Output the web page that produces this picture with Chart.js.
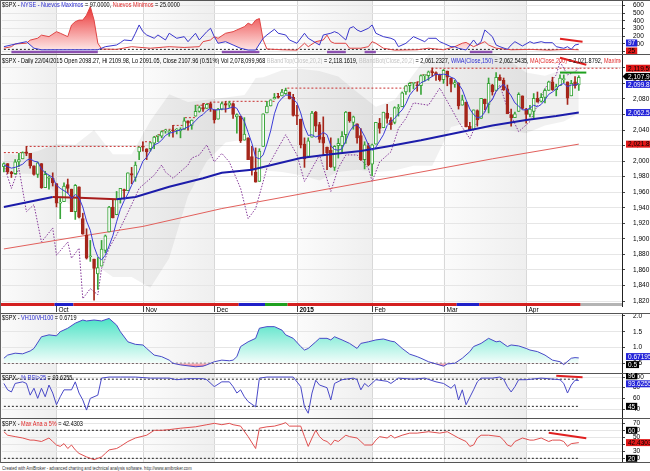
<!DOCTYPE html>
<html>
<head>
<meta charset="utf-8">
<title>$SPX Daily</title>
<script src="https://cdn.jsdelivr.net/npm/chart.js@4.4.1/dist/chart.umd.min.js"></script>
<style>
  html, body { margin: 0; padding: 0; background: #fff; }
  #wrap { position: relative; width: 650px; height: 471px; overflow: hidden; background: #fff; }
  #wrap canvas { position: absolute; left: 0; }
  .ttl { position: absolute; left: 2px; white-space: nowrap; font-family: Arial, "Liberation Sans", sans-serif; font-size: 6.5px; line-height: 7px; color: #000; transform: scaleX(0.85); transform-origin: 0 0; z-index: 5; }
  .clip { position: absolute; left: 0; width: 621px; height: 8px; overflow: hidden; z-index: 5; }
  #foot { font-size: 5.2px; color: #333; transform: scaleX(0.8); }
  #lborder { position: absolute; left: 0; top: 0; width: 1px; height: 463px; background: #666; z-index: 6; }
</style>
</head>
<body>
<div id="wrap">
  <canvas id="cNyse" width="650" height="54" style="top:0"></canvas>
  <canvas id="cPrice" width="650" height="259" style="top:54px"></canvas>
  <canvas id="cVh" width="650" height="60" style="top:313px"></canvas>
  <canvas id="cRsi" width="650" height="45" style="top:373px"></canvas>
  <canvas id="cAna" width="650" height="45" style="top:418px"></canvas>

  <div class="ttl" style="top:0.5px">$SPX - <span style="color:#2a2ad0">NYSE - Nuevos Maximos</span> = 97.0000, <span style="color:#e02828">Nuevos Minimos</span> = 25.0000</div>
  <div class="clip" style="top:56px"><div class="ttl" style="top:0.5px">$SPX - Daily 22/04/2015 Open 2098.27, Hi 2109.98, Lo 2091.05, Close 2107.96 (0.51%) Vol 2,078,099,968 <span style="color:#c4c4c4">BBandTop(Close,20,2)</span> = 2,118.1619, <span style="color:#c4c4c4">BBandBot(Close,20,2)</span> = 2,061.2327, <span style="color:#2a2ad0">WMA(Close,150)</span> = 2,062.5435, <span style="color:#e02828">MA(Close,200)</span> = 2,021.8792, <span style="color:#e02828">Maximo</span> = 2,119.5900</div></div>
  <div class="ttl" style="top:313.5px">$SPX - <span style="color:#2a2ad0">VH10/VH100</span> = 0.6719</div>
  <div class="ttl" style="top:373.5px">$SPX - <span style="color:#2a2ad0">% RSI&gt;25</span> = 93.6255</div>
  <div class="ttl" style="top:419.5px">$SPX - <span style="color:#e02828">Max Ana a 5%</span> = 42.4303</div>
  <div class="ttl" id="foot" style="top:464.5px">Created with AmiBroker - advanced charting and technical analysis software. http://www.amibroker.com</div>
  <div id="lborder"></div>
</div>

<script>
// $SPX daily bars, 11/09/2014 .. 22/04/2015 (bar index 0..153)
const opens = [1993,1997,1986,1984,1999,2003,2012,2010,1994,1983,1997,1966,1978,1978,
  1971,1946,1948,1970,1964,1935,1967,1926,1905,1877,1874,1855,1865,1885,1909,1941,1931,1951,1963,1962,1984,1979,2012,
  2019,2016,2016,2023,2032,2032,2039,2037,2040,2040,2039,2041,2052,2046,2058,2064,2069,2068,2074,
  2066,2054,2067,2074,2072,2074,2057,2058,2027,2030,2006,1986,1974,2019,2062,2071,2080,2083,2084,2087,2089,2082,
  2059,2054,2022,2006,2031,2063,2047,2031,2018,2014,1992,2020,2020,2034,2063,2050,2048,2033,2002,2020,
  1996,2022,2049,2043,2062,2053,2050,2068,2070,2089,2097,2100,2098,2097,2110,2110,2115,2114,2111,
  2105,2116,2107,2099,2100,2072,2076,2045,2041,2065,2055,2080,2073,2098,2091,2108,2104,2093,2060,2056,2064,2084,
  2067,2060,2064,2081,2077,2082,2091,2102,2092,2097,2105,2102,2084,2102,2098];
const highs = [1998,1997,1987,2002,2010,2012,2019,2010,1994,1999,1997,1987,1981,1985,
  1971,1952,1972,1977,1964,1970,1967,1933,1913,1898,1874,1876,1898,1905,1942,1950,1961,1965,1964,1985,1992,1999,2018,
  2025,2016,2024,2032,2034,2039,2041,2040,2046,2042,2043,2056,2052,2053,2072,2071,2074,2074,2076,
  2066,2068,2076,2077,2077,2075,2061,2058,2056,2030,2019,2017,2016,2061,2077,2079,2087,2087,2092,2094,2089,2086,
  2072,2054,2030,2030,2064,2064,2050,2057,2018,2030,2020,2029,2038,2064,2063,2058,2048,2042,2025,2023,
  2022,2050,2055,2063,2073,2056,2070,2073,2089,2097,2101,2101,2102,2111,2111,2116,2120,2115,2112,
  2118,2116,2107,2104,2101,2085,2076,2050,2066,2066,2081,2080,2107,2099,2114,2111,2107,2098,2067,2063,2088,2084,
  2068,2072,2087,2089,2087,2093,2103,2108,2099,2111,2111,2102,2104,2109,2110];
const lows = [1986,1984,1979,1983,1993,2003,2007,1991,1982,1979,1965,1966,1964,1968,
  1941,1926,1948,1959,1935,1925,1927,1906,1874,1871,1821,1835,1865,1882,1909,1927,1931,1946,1951,1962,1971,1974,2002,
  2013,2002,2013,2016,2025,2030,2036,2032,2031,2035,2030,2041,2040,2041,2058,2063,2064,2068,2064,
  2049,2054,2066,2063,2069,2055,2036,2024,2027,2002,1982,1973,1974,2019,2062,2071,2080,2081,2084,2086,2080,2058,
  2047,2017,1992,2006,2031,2038,2024,2008,1989,1992,1988,2004,2012,2023,2050,2041,2023,2001,1990,1994,
  1981,2022,2036,2043,2049,2041,2048,2058,2070,2086,2089,2093,2090,2086,2103,2104,2109,2104,2103,
  2100,2097,2089,2095,2067,2072,2044,2040,2041,2045,2055,2066,2062,2085,2091,2104,2091,2061,2045,2056,2064,2067,
  2049,2057,2056,2076,2076,2075,2091,2091,2084,2097,2101,2073,2084,2094,2091];
const closes = [1997,1986,1984,1999,2002,2011,2010,1994,1983,1998,1966,1983,1978,1972,
  1946,1946,1968,1965,1935,1969,1928,1906,1875,1878,1862,1863,1887,1904,1941,1927,1951,1965,1962,1985,1982,1995,2018,
  2018,2012,2024,2031,2032,2038,2040,2038,2039,2040,2041,2052,2049,2053,2064,2069,2067,2073,2068,
  2053,2067,2074,2072,2075,2060,2060,2026,2035,2002,1990,1973,2013,2061,2071,2079,2082,2082,2089,2091,2080,2059,
  2058,2021,2003,2026,2062,2045,2028,2023,2011,1993,2019,2023,2032,2063,2052,2057,2030,2002,2021,1995,
  2021,2050,2042,2063,2055,2047,2069,2069,2088,2097,2100,2100,2097,2110,2110,2115,2114,2111,2105,
  2117,2108,2099,2101,2071,2079,2044,2040,2066,2053,2081,2074,2100,2089,2108,2104,2092,2061,2056,2061,2086,2068,
  2060,2067,2081,2076,2082,2091,2102,2092,2096,2107,2105,2081,2100,2097,2108];
// thin blue average that hugs the candles
const fastMA = [1995,1993,1991,1992,1994,1996,2001,2003,2000,1999,1990,1985,1982,1979,
  1969,1965,1962,1959,1952,1957,1953,1941,1923,1911,1890,1877,1873,1879,1891,1904,1922,1938,1949,1958,1969,1978,1988,
  2000,2005,2013,2021,2023,2027,2033,2036,2037,2039,2040,2042,2044,2047,2052,2057,2060,2065,2068,
  2066,2066,2067,2067,2068,2070,2068,2059,2051,2037,2023,2005,2003,2008,2022,2039,2061,2075,2081,2085,2085,2080,
  2075,2062,2044,2033,2034,2031,2033,2037,2034,2020,2015,2014,2016,2026,2038,2045,2047,2041,2032,2021,
  2014,2018,2026,2034,2046,2051,2055,2061,2066,2074,2085,2091,2096,2101,2103,2106,2109,2112,2111,
  2112,2111,2108,2106,2099,2092,2079,2067,2060,2056,2057,2063,2075,2079,2090,2095,2099,2091,2084,2075,2071,2066,
  2066,2068,2072,2070,2073,2079,2086,2089,2093,2098,2100,2096,2098,2098,2100];

// overlays: [bar index, value]
const wmaKnots = [[0,1941],[13,1954],[20,1953],[30,1951],[35,1954],[44,1967],[53,1978],[58,1985],[66,1989],[79,2004],[87,2009],[95,2013],[102,2019],[111,2027],[121,2037],[130,2046],[139,2053],[147,2058],[153,2062.5]];
const wmaRedSpan = [13, 30];
const ma200Knots = [[0,1887],[20,1903],[37,1916],[58,1939],[86,1964],[111,1986],[130,2003],[153,2021.9]];
const bbIdx   = [0,4,9,14,19,24,29,34,39,44,49,54,59,64,65,67,69,74,79,84,89,94,99,104,109,114,119,124,129,134,139,144,149,153];
const bbUpper = [2010,2008,2013,2022,2021,2040,2009,2009,2052,2086,2076,2079,2082,2085,2092,2107,2108,2117,2119,2116,2109,2089,2070,2079,2112,2143,2138,2137,2138,2131,2114,2110,2118,2118.2];
const bbLower = [1986,1984,1983,1958,1938,1868,1851,1851,1837,1875,1955,2000,2024,2028,2018,1992,1988,1986,1982,1975,1986,1989,1986,1988,1994,1994,2044,2050,2042,2040,2036,2046,2051,2061.2];
const oscKnots = [[0,1995],[2,1965],[4,1991],[6,1935],[8,1944],[10,1896],[13,1914],[14,1879],[17,1896],[18,1875],[20,1888],[21,1823],[23,1836],[25,1828],[26,1862],[28,1888],[31,1914],[34,1944],[36,1965],[40,1982],[42,1995],[43,1986],[45,1978],[49,1995],[50,2004],[52,2008],[54,2021],[56,1999],[58,2010],[60,1999],[63,1965],[65,1926],[67,1939],[70,1991],[73,2017],[75,2034],[78,2008],[80,1974],[81,1982],[84,2008],[87,1961],[89,1991],[91,2008],[94,2008],[97,1991],[98,1974],[100,1999],[103,2012],[105,2042],[107,2055],[109,2075],[113,2072],[116,2094],[118,2077],[121,2051],[124,2029],[126,2051],[129,2072],[132,2098],[134,2068],[137,2038],[140,2051],[142,2072],[144,2094],[147,2111],[148,2128],[150,2111],[152,2115],[153,2120]];
const maxHighKnots = [[0,2011],[6,2019],[37,2025],[40,2032],[41,2034],[42,2039],[43,2041],[45,2046],[48,2056],[51,2072],[53,2074],[55,2076],[59,2077],[72,2087],[74,2092],[75,2094],[107,2097],[108,2101],[110,2102],[111,2111],[113,2116],[114,2119.6],[164,2119.6]];
const greenLevel = [[148,2114],[155,2114]];
const priceTrend = [[148,2133],[155,2124]];

// calendar
const monthStarts = [14, 37, 56, 78, 98, 117, 139];
const monthNames = ['Oct', 'Nov', 'Dec', '2015', 'Feb', 'Mar', 'Apr'];
const shadedMonths = [[0, 14], [37, 56], [78, 98], [117, 139]];
const ribbon = [[0,13,'r'],[14,18,'b'],[19,62,'r'],[63,69,'b'],[70,75,'g'],[76,120,'r'],[121,126,'b'],[127,153,'r'],[154,164,'n']];

// NYSE new highs / new lows
const nyseHighs = [[0,65],[4,110],[6,130],[8,45],[10,25],[23,25],[25,25],[27,65],[30,87],[31,117],[32,152],[34,143],[35,239],[36,347],[37,260],[38,217],[40,174],[41,217],[43,152],[44,239],[46,174],[48,195],[49,130],[51,239],[52,152],[54,260],[55,304],[56,195],[57,109],[59,130],[61,87],[63,44],[65,22],[67,22],[69,174],[70,217],[72,291],[73,239],[75,217],[76,152],[78,109],[80,239],[81,174],[84,87],[85,217],[87,239],[88,260],[89,239],[91,152],[92,304],[93,325],[94,282],[95,260],[97,304],[98,347],[99,239],[100,217],[101,195],[103,174],[104,152],[105,65],[107,109],[108,152],[109,195],[111,152],[112,130],[113,174],[115,174],[116,130],[117,109],[119,65],[120,65],[121,44],[123,22],[124,87],[125,152],[126,87],[127,130],[128,282],[129,239],[130,195],[131,87],[132,65],[134,31],[135,87],[136,130],[138,74],[140,130],[141,109],[143,130],[144,117],[146,117],[147,65],[149,44],[150,65],[151,31],[152,87],[153,97]];
const nyseLows = [[0,45],[2,65],[3,100],[6,110],[7,150],[9,175],[10,215],[12,195],[14,260],[15,240],[17,195],[18,345],[19,390],[20,410],[21,410],[22,475],[23,585],[24,410],[25,110],[26,35],[30,30],[34,65],[39,45],[44,65],[48,55],[52,65],[53,130],[55,152],[56,195],[57,174],[59,239],[61,260],[62,282],[64,325],[65,370],[66,347],[67,410],[68,430],[69,152],[70,35],[74,25],[78,20],[80,110],[81,65],[83,130],[85,152],[86,215],[87,130],[88,109],[91,109],[92,45],[95,45],[97,65],[98,130],[99,109],[101,45],[104,20],[110,25],[113,45],[117,25],[120,65],[122,110],[123,120],[125,65],[126,87],[128,130],[129,87],[131,45],[135,25],[140,30],[145,20],[150,30],[153,25]];
const nyseMarks = [[2,25],[58,68],[86,91],[96,99],[124,130]];
const nyseTrend = [[148,169],[154,130]];
const nyseRef = 30;

const vhKnots = [[0,0.66],[1,0.76],[3,0.82],[5,0.8],[7,0.89],[8,0.97],[10,1.34],[12,1.40],[14,1.37],[15,1.5],[17,1.61],[19,1.77],[21,1.87],[22,1.84],[24,1.87],[26,1.84],[28,1.92],[30,1.71],[31,1.5],[33,1.18],[35,1.1],[37,1.08],[38,0.97],[40,0.76],[42,0.71],[44,0.6],[45,0.5],[47,0.45],[49,0.42],[51,0.39],[53,0.41],[54,0.45],[56,0.55],[58,0.6],[60,0.58],[61,0.6],[62,0.71],[63,1.03],[65,1.18],[67,1.29],[68,1.61],[70,1.66],[72,1.66],[74,1.55],[75,1.40],[77,1.29],[79,1.03],[80,0.92],[81,0.97],[83,1.18],[84,1.29],[86,1.29],[87,1.24],[88,1.34],[90,1.24],[92,1.13],[94,0.97],[95,1.13],[97,1.18],[99,1.24],[101,1.27],[103,1.2],[104,1.18],[106,0.97],[108,0.79],[110,0.71],[111,0.66],[113,0.55],[115,0.48],[117,0.41],[118,0.48],[120,0.5],[122,0.66],[124,0.87],[125,1.03],[127,1.13],[129,1.29],[131,1.18],[132,1.2],[134,1.03],[135,1.08],[137,1.05],[139,0.97],[140,0.92],[142,0.87],[144,0.76],[146,0.6],[148,0.55],[149,0.46],[151,0.66],[152,0.68],[153,0.67]];
const vhRef = 0.5;

const rsiKnots = [[0,88],[1,76],[2,72],[3,88],[5,91],[6,88],[7,66],[8,79],[9,60],[10,79],[11,63],[12,85],[13,70],[14,48],[15,63],[16,76],[18,76],[19,91],[20,70],[21,57],[22,38],[23,60],[25,66],[26,98],[28,100],[31,100],[35,100],[39,98],[44,98],[46,95],[49,97],[53,97],[54,95],[56,82],[58,91],[60,91],[61,82],[62,70],[63,76],[64,63],[65,54],[67,44],[68,98],[70,100],[77,100],[79,82],[80,44],[81,32],[82,70],[83,94],[84,85],[86,80],[87,57],[88,88],[90,95],[93,98],[94,95],[95,76],[96,88],[97,82],[99,95],[102,92],[103,88],[105,98],[109,96],[112,98],[115,91],[117,88],[119,79],[120,86],[121,57],[122,76],[123,48],[125,76],[126,91],[127,98],[130,98],[132,100],[133,96],[134,82],[135,72],[136,82],[137,95],[139,95],[143,98],[148,95],[149,88],[150,70],[151,85],[152,94],[153,93.6]];
const rsiRefs = [96, 45];
const rsiTrend = [[147,102.5],[154,99.4]];

const anaKnots = [[0,58],[1,53],[3,51],[5,49],[7,46],[8,46],[10,44],[12,49],[13,44],[14,39],[15,37],[16,41],[17,34],[18,39],[19,32],[20,27],[22,22],[23,20],[24,18],[26,22],[27,27],[28,32],[30,34],[31,37],[33,44],[35,49],[38,53],[40,60],[42,60],[44,61],[47,63],[51,65],[54,68],[56,70],[58,68],[60,70],[61,68],[63,66],[65,51],[67,34],[68,63],[70,65],[72,66],[74,69],[75,71],[76,66],[79,66],[80,51],[81,37],[82,49],[83,60],[84,51],[85,46],[86,44],[87,39],[88,46],[89,44],[91,53],[92,51],[94,49],[95,44],[96,39],[98,39],[99,46],[100,51],[102,49],[103,53],[104,49],[106,53],[108,56],[110,56],[113,58],[116,56],[118,58],[119,55],[121,49],[123,44],[124,37],[125,39],[126,49],[127,53],[129,53],[132,51],[133,46],[134,39],[135,37],[136,44],[138,49],[140,46],[141,46],[143,49],[145,44],[146,46],[148,46],[149,44],[150,37],[151,41],[153,42.4]];
const anaRefs = [60, 20];
const anaTrend = [[145,56.6],[155,48.6]];

const lastBar = 153;

// ---------------------------------------------------------------
Chart.defaults.font.family = 'Arial, "Liberation Sans", sans-serif';
const labels = Array.from({ length: 165 }, (_, i) => i);
const BLUE = '#2424d8', RED = '#e01818', BLACK = '#000';

function line(knots, color, width, extra) {
  return Object.assign({
    type: 'line',
    data: knots.map(([i, v]) => ({ x: i, y: v })),
    borderColor: color, borderWidth: width,
    pointRadius: 0, fill: false, tension: 0, spanGaps: true
  }, extra || {});
}
const refLine = v => line([[0, v], [lastBar, v]], '#222', 1, { borderDash: [2, 2], order: 30 });

function opts(min, max, step, fmt, padBottom) {
  return {
    responsive: false, animation: false, events: [],
    layout: { padding: { left: 2, right: 0, top: 0, bottom: padBottom || 0 } },
    plugins: { legend: { display: false }, tooltip: { enabled: false } },
    scales: {
      x: { type: 'category', offset: true, display: false },
      y: {
        position: 'right', min: min, max: max,
        afterFit: s => { s.width = 28; s.paddingTop = 0; s.paddingBottom = 0; },
        // keep every round step inside the pane, nothing at the pane edges
        afterBuildTicks: s => {
          const t = [];
          for (let k = Math.ceil(min / step - 1e-9); k * step <= max + 1e-9; k++) {
            t.push({ value: Math.round(k * step * 1e6) / 1e6 });
          }
          s.ticks = t;
        },
        ticks: { autoSkip: false, padding: 8, color: '#000', font: { size: 6.5 }, callback: v => fmt(v) },
        grid: { color: '#e6e6e6', tickColor: '#444', tickLength: 3 },
        border: { display: true, color: '#222', width: 1 }
      }
    }
  };
}

// value boxes on the right axis
function drawBoxes(ctx, yScale, boxes) {
  const H = 7;
  const items = boxes.map(b => Object.assign({}, b, { py: yScale.getPixelForValue(b.v) }));
  items.sort((p, q) => p.py - q.py);
  for (let i = 1; i < items.length; i++) {
    const gap = items[i].py - items[i - 1].py;
    if (gap < H + 1) { const d = (H + 1 - gap) / 2; items[i - 1].py -= d; items[i].py += d; }
  }
  ctx.font = '6.5px Arial';
  ctx.textBaseline = 'middle';
  items.forEach(b => {
    const x0 = 626, w = ctx.measureText(b.t).width + 4;
    ctx.fillStyle = b.bg;
    ctx.fillRect(x0, b.py - H / 2, w, H);
    if (b.arrow) {
      ctx.beginPath(); ctx.moveTo(x0, b.py - H / 2); ctx.lineTo(x0 - 3.5, b.py); ctx.lineTo(x0, b.py + H / 2); ctx.closePath(); ctx.fill();
    }
    ctx.fillStyle = b.fg;
    ctx.fillText(b.t, x0 + 2, b.py + 0.5);
  });
}

const ribbonColors = { r: '#d42020', b: '#2020c8', g: '#20a020', n: '#b4b4b4' };

function decor(cfg) {
  return {
    id: 'decor',
    beforeDraw(chart) {
      const { ctx, chartArea: a } = chart;
      const x = chart.scales.x;
      ctx.save();
      ctx.fillStyle = '#fff';
      ctx.fillRect(0, 0, chart.width, chart.height);
      shadedMonths.forEach(([s, e]) => {
        const x0 = s === 0 ? 0 : x.getPixelForValue(s);
        const x1 = x.getPixelForValue(e);
        const g = ctx.createLinearGradient(x0, 0, x1, 0);
        g.addColorStop(0, '#fbfbfb'); g.addColorStop(1, '#efefef');
        ctx.fillStyle = g;
        ctx.fillRect(x0, a.top, x1 - x0, a.bottom - a.top);
      });
      ctx.strokeStyle = '#d8d8d8'; ctx.lineWidth = 1;
      monthStarts.forEach(i => {
        const px = Math.round(x.getPixelForValue(i)) + 0.5;
        ctx.beginPath(); ctx.moveTo(px, a.top); ctx.lineTo(px, a.bottom); ctx.stroke();
      });
      ctx.restore();
    },
    afterDatasetsDraw(chart) {
      if (!cfg.ribbon) return;
      const { ctx, chartArea: a } = chart;
      const x = chart.scales.x;
      const half = (x.getPixelForValue(1) - x.getPixelForValue(0)) / 2;
      ctx.save();
      ribbon.forEach(([s, e, c]) => {
        const x0 = s === 0 ? 0 : x.getPixelForValue(s) - half;
        const x1 = x.getPixelForValue(e) + half;
        ctx.fillStyle = ribbonColors[c];
        ctx.fillRect(x0, a.bottom - 3, x1 - x0, 3);
      });
      ctx.restore();
    },
    afterDraw(chart) {
      const { ctx, chartArea: a } = chart;
      const x = chart.scales.x;
      ctx.save();
      ctx.strokeStyle = '#555'; ctx.lineWidth = 1;
      ctx.beginPath(); ctx.moveTo(0, a.top + 0.5); ctx.lineTo(chart.width, a.top + 0.5); ctx.stroke();
      if (cfg.bottomLine) {
        ctx.beginPath(); ctx.moveTo(0, a.bottom - 0.5); ctx.lineTo(chart.width, a.bottom - 0.5); ctx.stroke();
      }
      if (cfg.months) {
        ctx.fillStyle = '#000'; ctx.textBaseline = 'top'; ctx.strokeStyle = '#444';
        monthStarts.forEach((i, k) => {
          const px = Math.round(x.getPixelForValue(i)) + 0.5;
          ctx.beginPath(); ctx.moveTo(px, a.bottom); ctx.lineTo(px, a.bottom + 6); ctx.stroke();
          ctx.font = (monthNames[k] === '2015' ? 'bold ' : '') + '6.5px Arial';
          ctx.fillText(monthNames[k], px + 2, a.bottom + 0.5);
        });
      }
      if (cfg.boxes) drawBoxes(ctx, chart.scales.y, cfg.boxes);
      ctx.restore();
    }
  };
}

// ---- pane 1: NYSE new highs / lows
const nyseCanvas = document.getElementById('cNyse');
const redGrad = nyseCanvas.getContext('2d').createLinearGradient(0, 2, 0, 52);
redGrad.addColorStop(0, 'rgb(232,30,30)');
redGrad.addColorStop(1, 'rgb(255,238,238)');

new Chart(nyseCanvas, {
  type: 'line',
  data: { labels: labels, datasets: [
    line(nyseHighs, '#3a3ad0', 1, { order: 2 }),
    line(nyseLows, '#e04545', 1, { order: 3, fill: { target: '-1', above: redGrad, below: 'rgba(0,0,0,0)' } }),
    refLine(nyseRef),
    ...nyseMarks.map(([s, e]) => line([[s, -4], [e, -4]], '#8c50b0', 2.5, { order: 5 })),
    line(nyseTrend, '#e02020', 2, { order: 1 })
  ] },
  options: opts(-30, 671, 100, v => String(v)),
  plugins: [decor({ boxes: [
    { v: 97, t: '97', bg: BLUE, fg: '#fff' },
    { v: 25, t: '25', bg: RED, fg: BLACK }
  ] })]
});

// ---- pane 2: price
const up = closes.map((c, i) => c >= opens[i]);
const UP = '#3aa53a', DN = '#a5261b';

new Chart(document.getElementById('cPrice'), {
  type: 'bar',
  data: { labels: labels, datasets: [
    line(bbIdx.map((i, k) => [i, bbUpper[k]]), 'rgba(0,0,0,0)', 1, { order: 40 }),
    line(bbIdx.map((i, k) => [i, bbLower[k]]), 'rgba(0,0,0,0)', 1, { order: 40, fill: '-1', backgroundColor: 'rgba(0,0,0,0.055)' }),
    line(ma200Knots, '#e2605c', 1, { order: 12 }),
    line(maxHighKnots, '#c83030', 1, { order: 12, stepped: true, borderDash: [2, 2] }),
    line(oscKnots, '#86389a', 1, { order: 12, borderDash: [1.5, 1.5] }),
    { type: 'bar', data: lows.map((l, i) => [l, highs[i]]), backgroundColor: up.map(u => u ? UP : DN),
      barThickness: 1, grouped: false, order: 9 },
    { type: 'bar', data: opens.map((o, i) => [o, closes[i]]), backgroundColor: up.map(u => u ? '#ffffff' : DN),
      borderColor: up.map(u => u ? UP : DN), borderWidth: 1, borderSkipped: false, barThickness: 3,
      minBarLength: 1, grouped: false, order: 8 },
    line(wmaKnots, '#1c1caa', 2, { order: 3, segment: {
      borderColor: c => (c.p0.parsed.x >= wmaRedSpan[0] && c.p1.parsed.x <= wmaRedSpan[1]) ? '#a81c1c' : undefined } }),
    line(fastMA.map((v, i) => [i, v]), '#3c3cd8', 1, { order: 2 }),
    line(greenLevel, '#1ea01e', 2, { order: 1 }),
    line(priceTrend, '#e02020', 2, { order: 1 })
  ] },
  options: opts(1813.6, 2137.9, 20, v => v.toLocaleString('en-US'), 7),
  plugins: [decor({ ribbon: true, months: true, boxes: [
    { v: 2119.59, t: '2,119.59', bg: RED, fg: BLACK },
    { v: 2107.96, t: '2,107.96', bg: BLACK, fg: '#fff', arrow: true },
    { v: 2099.83, t: '2,099.83', bg: BLUE, fg: '#fff' },
    { v: 2062.54, t: '2,062.54', bg: BLUE, fg: '#fff' },
    { v: 2021.88, t: '2,021.88', bg: RED, fg: BLACK }
  ] })]
});

// ---- pane 3: VH10/VH100
const vhCanvas = document.getElementById('cVh');
const vhCtx = vhCanvas.getContext('2d');
const tealGrad = vhCtx.createLinearGradient(0, 4, 0, 50);
tealGrad.addColorStop(0, 'rgb(72,226,196)');
tealGrad.addColorStop(1, 'rgb(242,253,250)');
const pinkGrad = vhCtx.createLinearGradient(0, 50, 0, 58);
pinkGrad.addColorStop(0, 'rgb(255,200,208)');
pinkGrad.addColorStop(1, 'rgb(222,30,60)');

new Chart(vhCanvas, {
  type: 'line',
  data: { labels: labels, datasets: [
    line(vhKnots, '#4a4ac8', 1, { order: 1, fill: { target: { value: vhRef }, above: tealGrad, below: pinkGrad } }),
    refLine(vhRef)
  ] },
  options: opts(0.193, 2.092, 0.5, v => v.toFixed(1)),
  plugins: [decor({ boxes: [
    { v: 0.67195, t: '0.67195', bg: BLUE, fg: '#fff' },
    { v: 0.5, t: '0.5', bg: BLACK, fg: '#fff' }
  ] })]
});

// ---- pane 4: % RSI > 25
new Chart(document.getElementById('cRsi'), {
  type: 'line',
  data: { labels: labels, datasets: [
    line(rsiKnots, '#4a4ac8', 1, { order: 2 }),
    ...rsiRefs.map(refLine),
    line(rsiTrend, '#e02020', 2, { order: 1 })
  ] },
  options: opts(23.1, 107.6, 20, v => String(v)),
  plugins: [decor({ boxes: [
    { v: 96, t: '96', bg: BLACK, fg: '#fff' },
    { v: 93.6255, t: '93.6255', bg: BLUE, fg: '#fff' },
    { v: 45, t: '45', bg: BLACK, fg: '#fff' }
  ] })]
});

// ---- pane 5: Max Ana a 5%
new Chart(document.getElementById('cAna'), {
  type: 'line',
  data: { labels: labels, datasets: [
    line(anaKnots, '#e05050', 1, { order: 2 }),
    ...anaRefs.map(refLine),
    line(anaTrend, '#e02020', 2, { order: 1 })
  ] },
  options: opts(13.3, 77.6, 10, v => String(v)),
  plugins: [decor({ bottomLine: true, boxes: [
    { v: 60, t: '60', bg: BLACK, fg: '#fff' },
    { v: 42.4303, t: '42.4303', bg: RED, fg: BLACK },
    { v: 20, t: '20', bg: BLACK, fg: '#fff' }
  ] })]
});
</script>
</body>
</html>
